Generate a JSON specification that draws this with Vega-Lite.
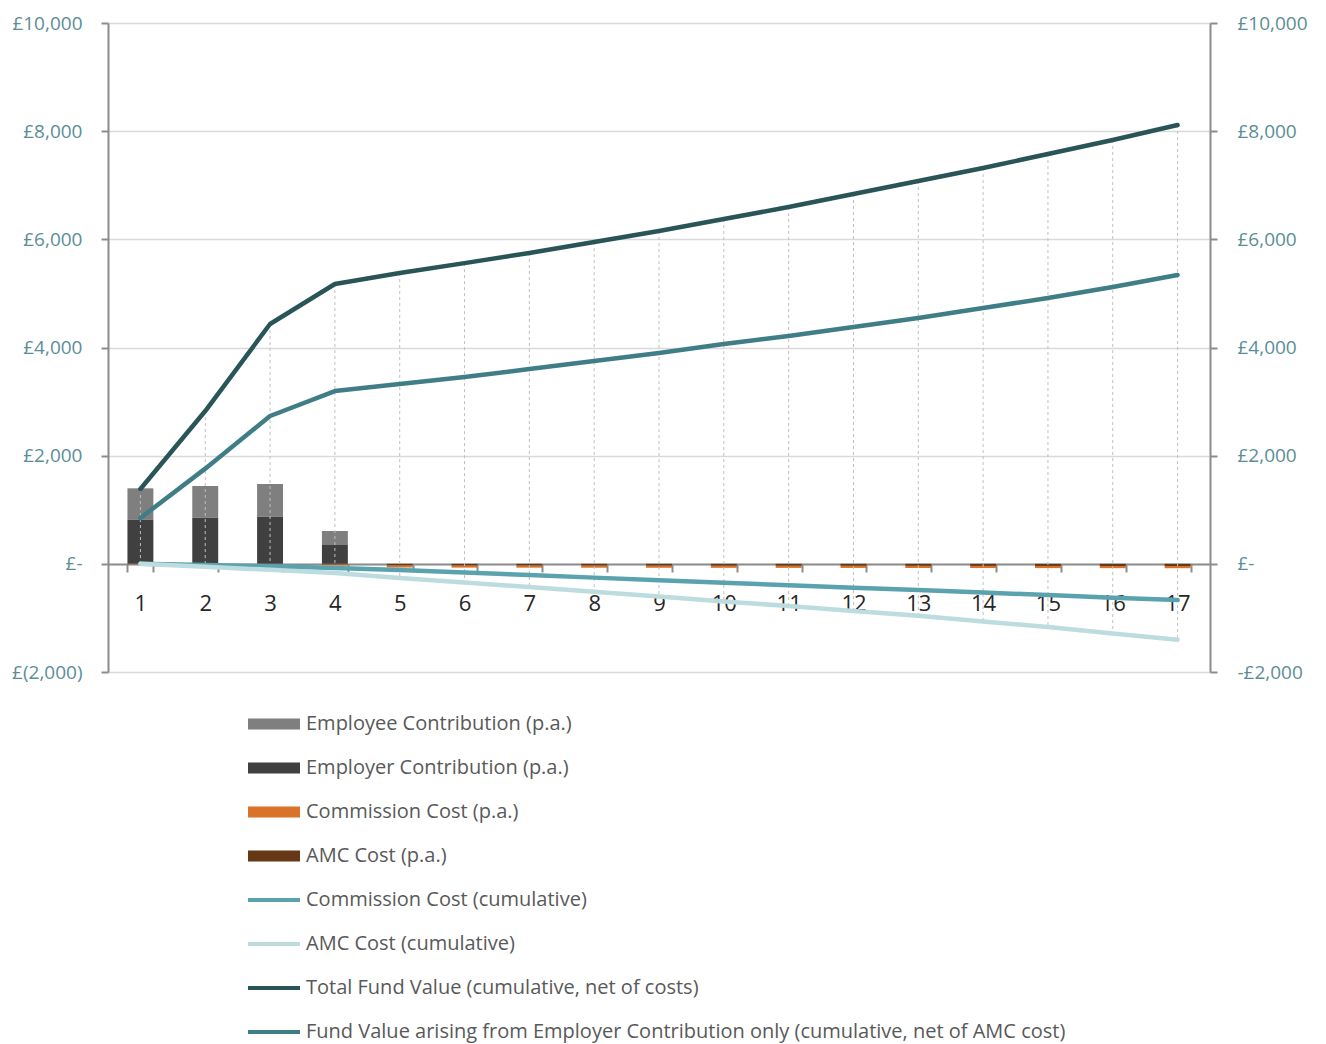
{
  "$schema": "https://vega.github.io/schema/vega-lite/v6.json",
  "width": 1102,
  "height": 649,
  "autosize": {"type": "none"},
  "padding": {"left": 108, "top": 23, "right": 116, "bottom": 372},
  "background": "white",
  "config": {"view": {"stroke": null}, "font": "Open Sans"},
  "data": {"values": [
    {"year": 1, "series": "Employee Contribution (p.a.)", "value": 574},
    {"year": 2, "series": "Employee Contribution (p.a.)", "value": 586},
    {"year": 3, "series": "Employee Contribution (p.a.)", "value": 605},
    {"year": 4, "series": "Employee Contribution (p.a.)", "value": 259},
    {"year": 1, "series": "Employer Contribution (p.a.)", "value": 822},
    {"year": 2, "series": "Employer Contribution (p.a.)", "value": 853},
    {"year": 3, "series": "Employer Contribution (p.a.)", "value": 871},
    {"year": 4, "series": "Employer Contribution (p.a.)", "value": 348},
    {"year": 1, "series": "Commission Cost (p.a.)", "value": -5},
    {"year": 2, "series": "Commission Cost (p.a.)", "value": -5},
    {"year": 3, "series": "Commission Cost (p.a.)", "value": -8},
    {"year": 4, "series": "Commission Cost (p.a.)", "value": -20},
    {"year": 5, "series": "Commission Cost (p.a.)", "value": -40},
    {"year": 6, "series": "Commission Cost (p.a.)", "value": -40},
    {"year": 7, "series": "Commission Cost (p.a.)", "value": -40},
    {"year": 8, "series": "Commission Cost (p.a.)", "value": -40},
    {"year": 9, "series": "Commission Cost (p.a.)", "value": -40},
    {"year": 10, "series": "Commission Cost (p.a.)", "value": -40},
    {"year": 11, "series": "Commission Cost (p.a.)", "value": -40},
    {"year": 12, "series": "Commission Cost (p.a.)", "value": -40},
    {"year": 13, "series": "Commission Cost (p.a.)", "value": -40},
    {"year": 14, "series": "Commission Cost (p.a.)", "value": -40},
    {"year": 15, "series": "Commission Cost (p.a.)", "value": -40},
    {"year": 16, "series": "Commission Cost (p.a.)", "value": -40},
    {"year": 17, "series": "Commission Cost (p.a.)", "value": -40},
    {"year": 1, "series": "AMC Cost (p.a.)", "value": -5},
    {"year": 2, "series": "AMC Cost (p.a.)", "value": -5},
    {"year": 3, "series": "AMC Cost (p.a.)", "value": -6},
    {"year": 4, "series": "AMC Cost (p.a.)", "value": -10},
    {"year": 5, "series": "AMC Cost (p.a.)", "value": -28},
    {"year": 6, "series": "AMC Cost (p.a.)", "value": -30},
    {"year": 7, "series": "AMC Cost (p.a.)", "value": -31},
    {"year": 8, "series": "AMC Cost (p.a.)", "value": -32},
    {"year": 9, "series": "AMC Cost (p.a.)", "value": -33},
    {"year": 10, "series": "AMC Cost (p.a.)", "value": -34},
    {"year": 11, "series": "AMC Cost (p.a.)", "value": -35},
    {"year": 12, "series": "AMC Cost (p.a.)", "value": -36},
    {"year": 13, "series": "AMC Cost (p.a.)", "value": -37},
    {"year": 14, "series": "AMC Cost (p.a.)", "value": -38},
    {"year": 15, "series": "AMC Cost (p.a.)", "value": -39},
    {"year": 16, "series": "AMC Cost (p.a.)", "value": -40},
    {"year": 17, "series": "AMC Cost (p.a.)", "value": -41},
    {"year": 1, "series": "Commission Cost (cumulative)", "value": 0},
    {"year": 2, "series": "Commission Cost (cumulative)", "value": -20},
    {"year": 3, "series": "Commission Cost (cumulative)", "value": -45},
    {"year": 4, "series": "Commission Cost (cumulative)", "value": -75},
    {"year": 5, "series": "Commission Cost (cumulative)", "value": -115},
    {"year": 6, "series": "Commission Cost (cumulative)", "value": -160},
    {"year": 7, "series": "Commission Cost (cumulative)", "value": -207},
    {"year": 8, "series": "Commission Cost (cumulative)", "value": -255},
    {"year": 9, "series": "Commission Cost (cumulative)", "value": -302},
    {"year": 10, "series": "Commission Cost (cumulative)", "value": -350},
    {"year": 11, "series": "Commission Cost (cumulative)", "value": -395},
    {"year": 12, "series": "Commission Cost (cumulative)", "value": -440},
    {"year": 13, "series": "Commission Cost (cumulative)", "value": -485},
    {"year": 14, "series": "Commission Cost (cumulative)", "value": -530},
    {"year": 15, "series": "Commission Cost (cumulative)", "value": -578},
    {"year": 16, "series": "Commission Cost (cumulative)", "value": -625},
    {"year": 17, "series": "Commission Cost (cumulative)", "value": -670},
    {"year": 1, "series": "AMC Cost (cumulative)", "value": 0},
    {"year": 2, "series": "AMC Cost (cumulative)", "value": -55},
    {"year": 3, "series": "AMC Cost (cumulative)", "value": -110},
    {"year": 4, "series": "AMC Cost (cumulative)", "value": -170},
    {"year": 5, "series": "AMC Cost (cumulative)", "value": -260},
    {"year": 6, "series": "AMC Cost (cumulative)", "value": -345},
    {"year": 7, "series": "AMC Cost (cumulative)", "value": -430},
    {"year": 8, "series": "AMC Cost (cumulative)", "value": -515},
    {"year": 9, "series": "AMC Cost (cumulative)", "value": -605},
    {"year": 10, "series": "AMC Cost (cumulative)", "value": -695},
    {"year": 11, "series": "AMC Cost (cumulative)", "value": -780},
    {"year": 12, "series": "AMC Cost (cumulative)", "value": -870},
    {"year": 13, "series": "AMC Cost (cumulative)", "value": -960},
    {"year": 14, "series": "AMC Cost (cumulative)", "value": -1065},
    {"year": 15, "series": "AMC Cost (cumulative)", "value": -1170},
    {"year": 16, "series": "AMC Cost (cumulative)", "value": -1290},
    {"year": 17, "series": "AMC Cost (cumulative)", "value": -1405},
    {"year": 1, "series": "Total Fund Value (cumulative, net of costs)", "value": 1383},
    {"year": 2, "series": "Total Fund Value (cumulative, net of costs)", "value": 2825},
    {"year": 3, "series": "Total Fund Value (cumulative, net of costs)", "value": 4434},
    {"year": 4, "series": "Total Fund Value (cumulative, net of costs)", "value": 5174},
    {"year": 5, "series": "Total Fund Value (cumulative, net of costs)", "value": 5377},
    {"year": 6, "series": "Total Fund Value (cumulative, net of costs)", "value": 5560},
    {"year": 7, "series": "Total Fund Value (cumulative, net of costs)", "value": 5747},
    {"year": 8, "series": "Total Fund Value (cumulative, net of costs)", "value": 5949},
    {"year": 9, "series": "Total Fund Value (cumulative, net of costs)", "value": 6153},
    {"year": 10, "series": "Total Fund Value (cumulative, net of costs)", "value": 6375},
    {"year": 11, "series": "Total Fund Value (cumulative, net of costs)", "value": 6597},
    {"year": 12, "series": "Total Fund Value (cumulative, net of costs)", "value": 6838},
    {"year": 13, "series": "Total Fund Value (cumulative, net of costs)", "value": 7078},
    {"year": 14, "series": "Total Fund Value (cumulative, net of costs)", "value": 7319},
    {"year": 15, "series": "Total Fund Value (cumulative, net of costs)", "value": 7578},
    {"year": 16, "series": "Total Fund Value (cumulative, net of costs)", "value": 7837},
    {"year": 17, "series": "Total Fund Value (cumulative, net of costs)", "value": 8114},
    {"year": 1, "series": "Fund Value arising from Employer Contribution only (cumulative, net of AMC cost)", "value": 847},
    {"year": 2, "series": "Fund Value arising from Employer Contribution only (cumulative, net of AMC cost)", "value": 1760},
    {"year": 3, "series": "Fund Value arising from Employer Contribution only (cumulative, net of AMC cost)", "value": 2733},
    {"year": 4, "series": "Fund Value arising from Employer Contribution only (cumulative, net of AMC cost)", "value": 3195},
    {"year": 5, "series": "Fund Value arising from Employer Contribution only (cumulative, net of AMC cost)", "value": 3325},
    {"year": 6, "series": "Fund Value arising from Employer Contribution only (cumulative, net of AMC cost)", "value": 3455},
    {"year": 7, "series": "Fund Value arising from Employer Contribution only (cumulative, net of AMC cost)", "value": 3602},
    {"year": 8, "series": "Fund Value arising from Employer Contribution only (cumulative, net of AMC cost)", "value": 3750},
    {"year": 9, "series": "Fund Value arising from Employer Contribution only (cumulative, net of AMC cost)", "value": 3898},
    {"year": 10, "series": "Fund Value arising from Employer Contribution only (cumulative, net of AMC cost)", "value": 4065},
    {"year": 11, "series": "Fund Value arising from Employer Contribution only (cumulative, net of AMC cost)", "value": 4213},
    {"year": 12, "series": "Fund Value arising from Employer Contribution only (cumulative, net of AMC cost)", "value": 4379},
    {"year": 13, "series": "Fund Value arising from Employer Contribution only (cumulative, net of AMC cost)", "value": 4545},
    {"year": 14, "series": "Fund Value arising from Employer Contribution only (cumulative, net of AMC cost)", "value": 4730},
    {"year": 15, "series": "Fund Value arising from Employer Contribution only (cumulative, net of AMC cost)", "value": 4915},
    {"year": 16, "series": "Fund Value arising from Employer Contribution only (cumulative, net of AMC cost)", "value": 5118},
    {"year": 17, "series": "Fund Value arising from Employer Contribution only (cumulative, net of AMC cost)", "value": 5340}
  ]},
  "encoding": {
    "x": {
      "field": "year", "type": "ordinal",
      "scale": {"paddingInner": 0.6, "paddingOuter": 0.3},
      "axis": {
        "title": null, "offset": -108, "tickBand": "extent", "labelAngle": 0,
        "domainColor": "#8c8c8c", "domainWidth": 2,
        "tickColor": "#8c8c8c", "tickWidth": 2, "tickSize": 8,
        "labelFontSize": 22, "labelColor": "#262626", "labelPadding": 21,
        "grid": false
      }
    }
  },
  "layer": [
    {
      "transform": [{"filter": {"field": "series", "oneOf": ["Employee Contribution (p.a.)", "Employer Contribution (p.a.)"]}}],
      "mark": {"type": "bar"},
      "encoding": {
        "y": {
          "field": "value", "type": "quantitative", "stack": "zero",
          "scale": {"domain": [-2000, 10000], "nice": false},
          "axis": {
            "title": null, "orient": "left",
            "values": [-2000, 0, 2000, 4000, 6000, 8000, 10000],
            "grid": true, "gridColor": "#d9d9d9", "gridWidth": 1.5,
            "domainColor": "#8c8c8c", "domainWidth": 2,
            "tickColor": "#8c8c8c", "tickWidth": 2, "tickSize": 7,
            "labelPadding": 19, "labelFontSize": 19, "labelColor": "#5b8e97",
            "labelExpr": "datum.value == 0 ? '£-' : (datum.value < 0 ? '£(' + format(-datum.value, ',') + ')' : '£' + format(datum.value, ','))"
          }
        },
        "color": {
          "field": "series", "type": "nominal",
          "scale": {
            "domain": ["Employee Contribution (p.a.)", "Employer Contribution (p.a.)", "Commission Cost (p.a.)", "AMC Cost (p.a.)"],
            "range": ["#7f7f7f", "#404040", "#d9732a", "#673815"]
          },
          "legend": {
            "orient": "none", "legendX": 156, "legendY": 691, "direction": "vertical",
            "title": null, "padding": 0,
            "symbolType": "M-2.6,-0.55H2.6V0.55H-2.6Z", "symbolSize": 400, "symbolStrokeWidth": 0,
            "symbolOpacity": 1,
            "labelFontSize": 20, "labelColor": "#595959", "labelOffset": 22, "labelLimit": 0,
            "rowPadding": 24
          }
        },
        "order": {"field": "series", "sort": "descending"}
      }
    },
    {
      "transform": [{"filter": {"field": "series", "oneOf": ["Commission Cost (p.a.)", "AMC Cost (p.a.)"]}}],
      "mark": {"type": "bar"},
      "encoding": {
        "y": {
          "field": "value", "type": "quantitative", "stack": "zero",
          "scale": {"domain": [-2000, 10000], "nice": false}, "axis": null
        },
        "color": {"field": "series", "type": "nominal"},
        "order": {"field": "series", "sort": "ascending"}
      }
    },
    {
      "transform": [{"filter": {"field": "series", "oneOf": ["Commission Cost (cumulative)", "AMC Cost (cumulative)", "Total Fund Value (cumulative, net of costs)", "Fund Value arising from Employer Contribution only (cumulative, net of AMC cost)"]}}],
      "mark": {"type": "rule", "strokeDash": [3, 3], "color": "#bfbfbf", "strokeWidth": 1},
      "encoding": {
        "y": {"aggregate": "max", "field": "value", "type": "quantitative", "scale": {"domain": [-2000, 10000], "nice": false}, "axis": null},
        "y2": {"aggregate": "min", "field": "value"}
      }
    },
    {
      "transform": [{"filter": {"field": "series", "oneOf": ["Commission Cost (cumulative)", "AMC Cost (cumulative)", "Total Fund Value (cumulative, net of costs)", "Fund Value arising from Employer Contribution only (cumulative, net of AMC cost)"]}}],
      "mark": {"type": "line", "strokeWidth": 4.5, "strokeCap": "round", "strokeJoin": "round"},
      "encoding": {
        "y": {
          "field": "value", "type": "quantitative",
          "scale": {"domain": [-2000, 10000], "nice": false},
          "axis": {
            "title": null, "orient": "right",
            "values": [-2000, 0, 2000, 4000, 6000, 8000, 10000],
            "grid": false,
            "domainColor": "#8c8c8c", "domainWidth": 2,
            "tickColor": "#8c8c8c", "tickWidth": 2, "tickSize": 7,
            "labelPadding": 20, "labelFontSize": 19, "labelColor": "#5b8e97",
            "labelExpr": "datum.value == 0 ? '£-' : (datum.value < 0 ? '-£' + format(-datum.value, ',') : '£' + format(datum.value, ','))"
          }
        },
        "stroke": {
          "field": "series", "type": "nominal",
          "scale": {
            "domain": ["Commission Cost (cumulative)", "AMC Cost (cumulative)", "Total Fund Value (cumulative, net of costs)", "Fund Value arising from Employer Contribution only (cumulative, net of AMC cost)"],
            "range": ["#5aa3ae", "#bcdcdf", "#2a5558", "#3f7e86"]
          },
          "legend": {
            "orient": "none", "legendX": 154, "legendY": 865, "direction": "vertical",
            "title": null, "padding": 0,
            "symbolType": "M-2.6,0H2.6", "symbolSize": 400, "symbolStrokeWidth": 4,
            "labelFontSize": 20, "labelColor": "#595959", "labelOffset": 20, "labelLimit": 0,
            "rowPadding": 22
          }
        },
        "order": {"field": "series", "sort": "descending"}
      }
    }
  ],
  "resolve": {"axis": {"y": "independent"}}
}
